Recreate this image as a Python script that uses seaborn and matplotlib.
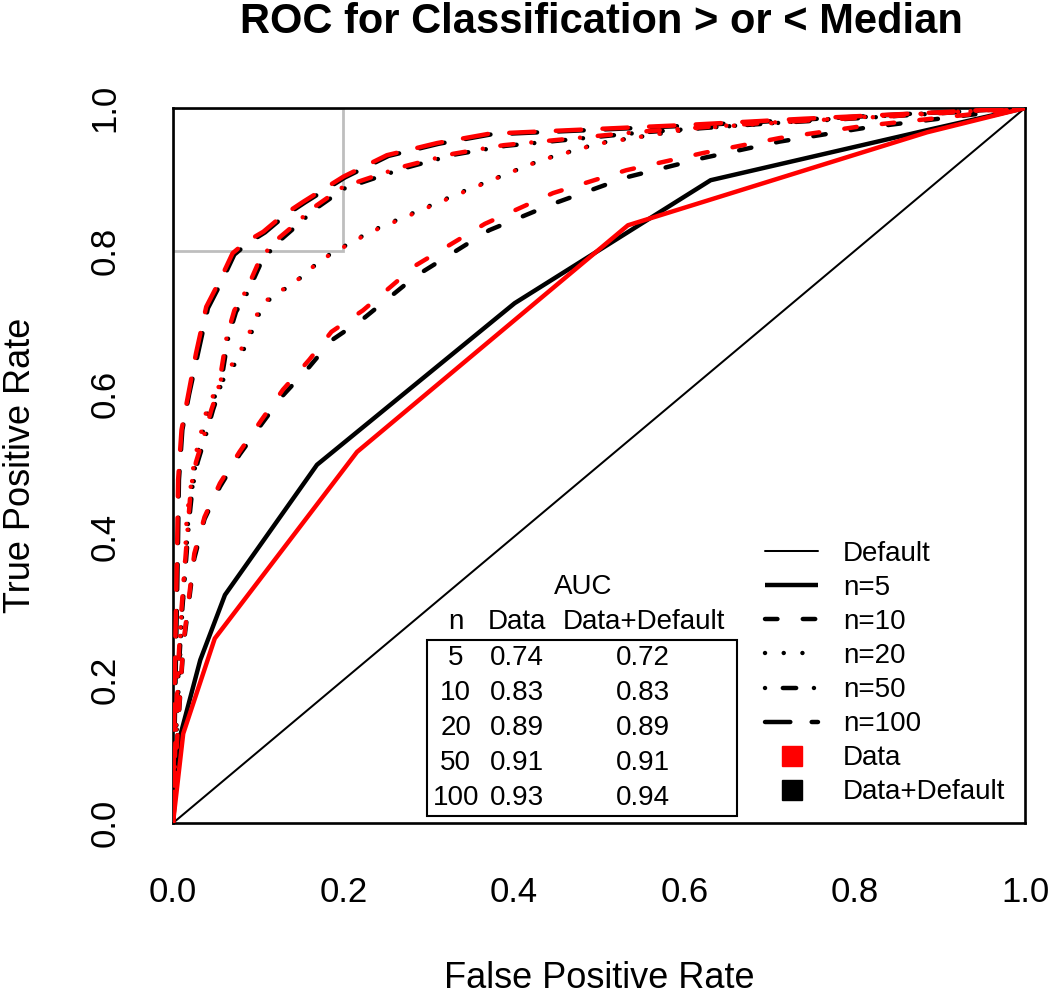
import matplotlib
matplotlib.use("Agg")
import matplotlib.pyplot as plt
import seaborn as sns
from matplotlib.lines import Line2D
from matplotlib.patches import Rectangle

sns.set_style("white")
plt.rcParams['font.family'] = ['Liberation Sans', 'DejaVu Sans']
plt.rcParams['text.color'] = 'black'
plt.rcParams['axes.labelcolor'] = 'black'
plt.rcParams['xtick.color'] = 'black'
plt.rcParams['ytick.color'] = 'black'

# ---------------- data ----------------
default_fpr = [0.0, 1.0]
default_tpr = [0.0, 1.0]

# n = 5
n5_data_fpr = [0.0, 0.012, 0.049, 0.216, 0.534, 0.885, 1.0]
n5_data_tpr = [0.0, 0.125, 0.258, 0.519, 0.836, 0.966, 1.0]
n5_dd_fpr = [0.0, 0.008, 0.032, 0.061, 0.169, 0.401, 0.631, 0.885, 1.0]
n5_dd_tpr = [0.0, 0.120, 0.228, 0.319, 0.501, 0.727, 0.899, 0.969, 1.0]

# n = 10
n10_data_fpr = [0.0, 0.005, 0.012, 0.025, 0.037, 0.055, 0.078, 0.104, 0.129, 0.160,
                0.186, 0.223, 0.285, 0.366, 0.446, 0.532, 0.622, 0.712, 0.811, 0.906, 1.0]
n10_data_tpr = [0.0, 0.120, 0.250, 0.377, 0.428, 0.475, 0.519, 0.564, 0.606, 0.648,
                0.687, 0.717, 0.780, 0.838, 0.881, 0.913, 0.937, 0.958, 0.975, 0.987, 1.0]
n10_dd_fpr = [0.0, 0.005, 0.012, 0.025, 0.037, 0.055, 0.078, 0.104, 0.129, 0.160,
              0.186, 0.223, 0.285, 0.371, 0.446, 0.532, 0.622, 0.712, 0.811, 0.906, 1.0]
n10_dd_tpr = [0.0, 0.115, 0.245, 0.370, 0.425, 0.470, 0.515, 0.558, 0.598, 0.638,
              0.675, 0.705, 0.765, 0.829, 0.866, 0.903, 0.930, 0.953, 0.972, 0.986, 1.0]

# n = 20
n20_data_fpr = [0.0, 0.004, 0.010, 0.014, 0.016, 0.025, 0.040, 0.059, 0.074, 0.084,
                0.093, 0.102, 0.117, 0.137, 0.155, 0.171, 0.190, 0.209, 0.229, 0.270,
                0.340, 0.392, 0.432, 0.499, 0.607, 0.788, 1.0]
n20_data_tpr = [0.0, 0.150, 0.300, 0.365, 0.427, 0.508, 0.580, 0.627, 0.648, 0.672,
                0.694, 0.721, 0.739, 0.751, 0.768, 0.785, 0.799, 0.811, 0.825, 0.846,
                0.882, 0.908, 0.927, 0.950, 0.971, 0.986, 1.0]
n20_dd_fpr = [0.0, 0.005, 0.011, 0.015, 0.018, 0.027, 0.042, 0.062, 0.077, 0.087,
              0.095, 0.104, 0.119, 0.139, 0.157, 0.173, 0.192, 0.211, 0.231, 0.272,
              0.342, 0.394, 0.434, 0.501, 0.609, 0.790, 1.0]
n20_dd_tpr = [0.0, 0.150, 0.300, 0.365, 0.427, 0.508, 0.580, 0.627, 0.648, 0.672,
              0.694, 0.721, 0.739, 0.752, 0.770, 0.787, 0.801, 0.813, 0.827, 0.848,
              0.884, 0.909, 0.928, 0.951, 0.971, 0.986, 1.0]

# n = 50
n50_data_fpr = [0.0, 0.005, 0.010, 0.018, 0.021, 0.027, 0.035, 0.045, 0.053, 0.063,
                0.072, 0.086, 0.100, 0.117, 0.141, 0.164, 0.200, 0.270, 0.329, 0.388,
                0.550, 0.692, 0.835, 1.0]
n50_data_tpr = [0.0, 0.200, 0.300, 0.424, 0.470, 0.505, 0.536, 0.578, 0.606, 0.680,
                0.717, 0.745, 0.783, 0.811, 0.835, 0.860, 0.890, 0.918, 0.936, 0.948,
                0.967, 0.979, 0.988, 1.0]
n50_dd_fpr = [0.0, 0.006, 0.011, 0.019, 0.023, 0.029, 0.037, 0.047, 0.055, 0.065,
              0.074, 0.088, 0.102, 0.119, 0.143, 0.166, 0.202, 0.272, 0.331, 0.390,
              0.552, 0.694, 0.837, 1.0]
n50_dd_tpr = [0.0, 0.200, 0.300, 0.424, 0.470, 0.505, 0.536, 0.578, 0.606, 0.680,
              0.715, 0.743, 0.780, 0.808, 0.833, 0.858, 0.888, 0.916, 0.935, 0.947,
              0.966, 0.978, 0.988, 1.0]

# n = 100
n100_data_fpr = [0.0, 0.002, 0.005, 0.006, 0.010, 0.018, 0.027, 0.039, 0.055, 0.070,
                 0.086, 0.106, 0.129, 0.153, 0.200, 0.251, 0.310, 0.371, 0.598, 0.740,
                 0.882, 1.0]
n100_data_tpr = [0.0, 0.200, 0.400, 0.480, 0.550, 0.600, 0.657, 0.722, 0.759, 0.797,
                 0.813, 0.827, 0.850, 0.869, 0.904, 0.934, 0.951, 0.964, 0.976, 0.985,
                 0.993, 1.0]
n100_dd_fpr = [0.0, 0.003, 0.006, 0.007, 0.011, 0.019, 0.029, 0.041, 0.057, 0.072,
               0.088, 0.108, 0.131, 0.155, 0.202, 0.253, 0.312, 0.373, 0.600, 0.742,
               0.884, 1.0]
n100_dd_tpr = [0.0, 0.200, 0.400, 0.480, 0.550, 0.600, 0.655, 0.720, 0.757, 0.795,
               0.811, 0.826, 0.849, 0.868, 0.903, 0.933, 0.950, 0.963, 0.975, 0.984,
               0.993, 1.0]

# gray zoom box
zoom_box_x = [0.0, 0.2]
zoom_box_y = [0.8, 1.0]

# AUC table
auc_n = ["5", "10", "20", "50", "100"]
auc_data = ["0.74", "0.83", "0.89", "0.91", "0.93"]
auc_data_default = ["0.72", "0.83", "0.89", "0.91", "0.94"]

legend_labels = ["Default", "n=5", "n=10", "n=20", "n=50", "n=100", "Data", "Data+Default"]
ticks = [0.0, 0.2, 0.4, 0.6, 0.8, 1.0]
tick_labels = ["0.0", "0.2", "0.4", "0.6", "0.8", "1.0"]

# ---------------- styles ----------------
THICK = 3.2
THIN = 1.45
RED = "#FF0000"
line_styles = {
    "n5": "-",
    "n10": (0, (2.8, 5.7)),
    "n20": (0, (0.01, 4.2)),
    "n50": (0, (0.01, 4, 3, 4)),
    "n100": (0, (5.7, 4.8)),
}

fig = plt.figure(figsize=(10.5, 9.97), dpi=100)
W, H = 1050, 997
ax = fig.add_axes([173 / W, 1 - 823 / H, 852 / W, 715 / H])
ax.set_facecolor("white")

# zoom box (under curves)
ax.add_patch(Rectangle((zoom_box_x[0], zoom_box_y[0]), zoom_box_x[1] - zoom_box_x[0],
                       zoom_box_y[1] - zoom_box_y[0], fill=False, ec="#BEBEBE",
                       lw=2.0, zorder=1))

def draw(fx, ty, color, key, lw=THICK):
    sns.lineplot(x=fx, y=ty, sort=False, estimator=None, ax=ax, color=color,
                 linewidth=lw, legend=False)
    ln = ax.lines[-1]
    ln.set_linestyle(line_styles[key] if key in line_styles else "-")
    ln.set_dash_capstyle("round")
    ln.set_solid_capstyle("round")
    ln.set_solid_joinstyle("round")
    ln.set_zorder(3)
    return ln

# diagonal default
sns.lineplot(x=default_fpr, y=default_tpr, sort=False, estimator=None, ax=ax,
             color="black", linewidth=THIN, legend=False)

black_sets = [("n5", n5_dd_fpr, n5_dd_tpr), ("n10", n10_dd_fpr, n10_dd_tpr),
              ("n20", n20_dd_fpr, n20_dd_tpr), ("n50", n50_dd_fpr, n50_dd_tpr),
              ("n100", n100_dd_fpr, n100_dd_tpr)]
red_sets = [("n5", n5_data_fpr, n5_data_tpr), ("n10", n10_data_fpr, n10_data_tpr),
            ("n20", n20_data_fpr, n20_data_tpr), ("n50", n50_data_fpr, n50_data_tpr),
            ("n100", n100_data_fpr, n100_data_tpr)]
for key, fx, ty in black_sets:
    draw(fx, ty, "black", key)
for key, fx, ty in red_sets:
    draw(fx, ty, RED, key)

# axes
ax.set_xlim(0, 1)
ax.set_ylim(0, 1)
ax.set_xticks(ticks)
ax.set_yticks(ticks)
ax.set_xticklabels(tick_labels)
ax.set_yticklabels(tick_labels)
for s in ax.spines.values():
    s.set_visible(True)
    s.set_color("black")
    s.set_linewidth(1.9)
ax.tick_params(axis="both", direction="out", length=16, width=1.9, color="black",
               labelsize=25, labelcolor="black")
ax.tick_params(axis="x", pad=22)
ax.tick_params(axis="y", pad=21)
for lab in ax.get_yticklabels():
    lab.set_rotation(90)
    lab.set_va("center")
    lab.set_ha("right")

ax.set_xlabel("False Positive Rate", fontsize=26)
ax.xaxis.set_label_coords(0.5, (823 - 988) / 715)
ax.xaxis.label.set_va("baseline")
ax.set_ylabel("True Positive Rate", fontsize=26)
ax.yaxis.set_label_coords((21 - 173) / 852, 0.5)
ax.yaxis.label.set_va("center")

fig.text((173 + 428) / W, 1 - 33 / H, "ROC for Classification > or < Median",
         fontsize=30, fontweight="bold", ha="center", va="baseline")

# AUC table
tfs = 20
ax.text(0.481, 0.3305, "AUC", fontsize=tfs, ha="center", va="center", transform=ax.transAxes)
col_x = [0.3318, 0.4034, 0.5528]
for cx, h in zip(col_x, ["n", "Data", "Data+Default"]):
    ax.text(cx, 0.2813, h, fontsize=tfs, ha="center", va="center", transform=ax.transAxes)
row_y = [0.2303, 0.1814, 0.1324, 0.0835, 0.0345]
for ry, a, b, c in zip(row_y, auc_n, auc_data, auc_data_default):
    ax.text(col_x[0], ry, a, fontsize=tfs, ha="center", va="center", transform=ax.transAxes)
    ax.text(col_x[1], ry, b, fontsize=tfs, ha="center", va="center", transform=ax.transAxes)
    ax.text(col_x[2] - 0.001, ry, c, fontsize=tfs, ha="center", va="center", transform=ax.transAxes)
ax.add_patch(Rectangle((0.2985, 0.0098), 0.6616 - 0.2985, 0.2566 - 0.0098, fill=False,
                       ec="black", lw=1.5, transform=ax.transAxes, zorder=4))

# legend
handles = [Line2D([], [], color="black", lw=THIN)]
for key in ["n5", "n10", "n20", "n50", "n100"]:
    handles.append(Line2D([], [], color="black", lw=THICK, linestyle=line_styles[key],
                          dash_capstyle="round", solid_capstyle="butt"))
handles.append(Line2D([], [], color=RED, marker="s", linestyle="none", markersize=15))
handles.append(Line2D([], [], color="black", marker="s", linestyle="none", markersize=15))
leg = ax.legend(handles, legend_labels, loc="upper left",
                bbox_to_anchor=((765 - 173) / 852, (823 - 541) / 715),
                frameon=False, fontsize=20, handlelength=1.91, handletextpad=0.9,
                labelspacing=0.29, borderpad=0, borderaxespad=0)

fig.savefig("out.png", dpi=100, facecolor="white")
